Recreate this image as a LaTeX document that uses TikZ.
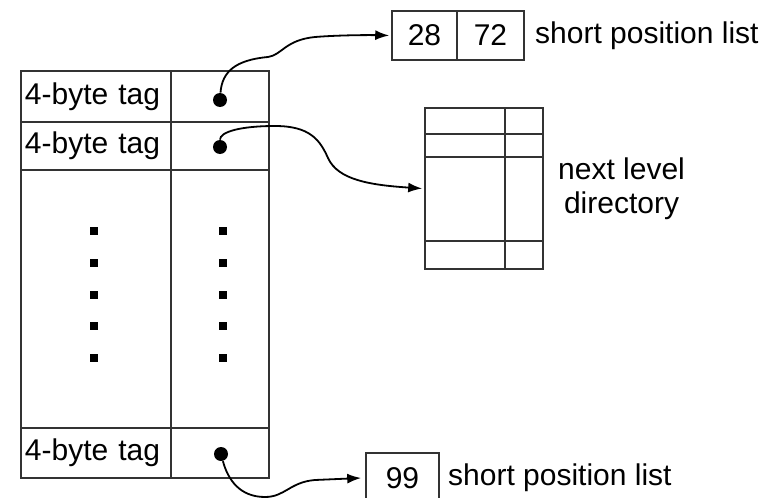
\documentclass[tikz,border=0pt]{standalone}
\usepackage{fontspec}
\setmainfont{Liberation Sans}
\usetikzlibrary{arrows.meta, positioning}

\begin{document}
\begin{tikzpicture}[x=0.5pt, y=-0.5pt, font=\fontsize{15}{17}\selectfont,
  cell/.style={draw=black!80, line width=0.8pt, inner sep=0pt},
  tagcell/.style={cell, minimum width=75pt, text width=71pt, inner xsep=2pt, align=left},
  ptrcell/.style={cell, minimum width=49pt},
  bullet/.style={circle, fill=black, inner sep=0pt, minimum size=7pt},
  gapdot/.style={fill=black, inner sep=0pt, minimum size=4pt},
  link/.style={-{Latex[length=7pt, width=5pt]}, line width=0.9pt}]
\useasboundingbox (0,0) rectangle (772,498);
\clip (0,0) rectangle (772,498);

% directory table
\node[tagcell, minimum height=25.5pt] (tag1) at (96,96.5) {4-byte tag};
\node[ptrcell, minimum height=25.5pt] (cell1) at (220,96.5) {};
\node[tagcell, minimum height=24pt] (tag2) at (96,146) {4-byte tag};
\node[ptrcell, minimum height=24pt] (cell2) at (220,146) {};
\node[cell, minimum width=75pt, minimum height=129pt] (midl) at (96,299) {};
\node[ptrcell, minimum height=129pt] (midr) at (220,299) {};
\node[tagcell, minimum height=25pt] (tag3) at (96,453) {4-byte tag};
\node[ptrcell, minimum height=25pt] (cell3) at (220,453) {};

\foreach \i in {0,...,4} {
  \node[gapdot] (dl\i) at (94,{231+31.75*\i}) {};
  \node[gapdot] (dr\i) at (223,{231+31.75*\i}) {};
}

\node[bullet] (p1) at (220,100) {};
\node[bullet] (p2) at (220,147) {};
\node[bullet] (p3) at (221,454) {};

% short position lists
\node[cell, minimum width=32.5pt, minimum height=24.5pt] (c28) at (424.5,35.5) {28};
\node[cell, minimum width=33.5pt, minimum height=24.5pt] (c72) at (490.5,35.5) {72};
\node[inner sep=0pt, right=5pt of c72] (list1) {short position list};

\node[cell, minimum width=36.5pt, minimum height=25pt] (c99) at (402.5,478) {99};
\node[inner sep=0pt, right=4pt of c99] (list2) {short position list};

% next level directory
\node[cell, minimum width=59pt, minimum height=80.5pt] (dir) at (484,188.5) {};
\foreach \y in {134,157,241}
  \draw[black!80, line width=0.8pt] (425,\y) -- (543,\y);
\draw[black!80, line width=0.8pt] (505,108) -- (505,269);
\node[inner sep=0pt, align=center, right=7pt of dir] (dirlbl) {next level\\directory};

% pointers
\draw[link] (p1) .. controls (222,72) and (235,60) .. (268,57)
  .. controls (282,55) and (285,40) .. (315,37)
  .. controls (340,35) and (370,35) .. ([xshift=-1pt]c28.west);
\draw[link] (p2) .. controls (220,132) and (240,126) .. (275,126)
  .. controls (310,126) and (320,140) .. (328,158)
  .. controls (338,180) and (370,185) .. ([xshift=-1pt]dir.west);
\draw[link] (p3) .. controls (228,480) and (240,497) .. (265,497)
  .. controls (285,497) and (290,482) .. (315,480)
  -- ([xshift=-2pt]c99.west);
\end{tikzpicture}
\end{document}
